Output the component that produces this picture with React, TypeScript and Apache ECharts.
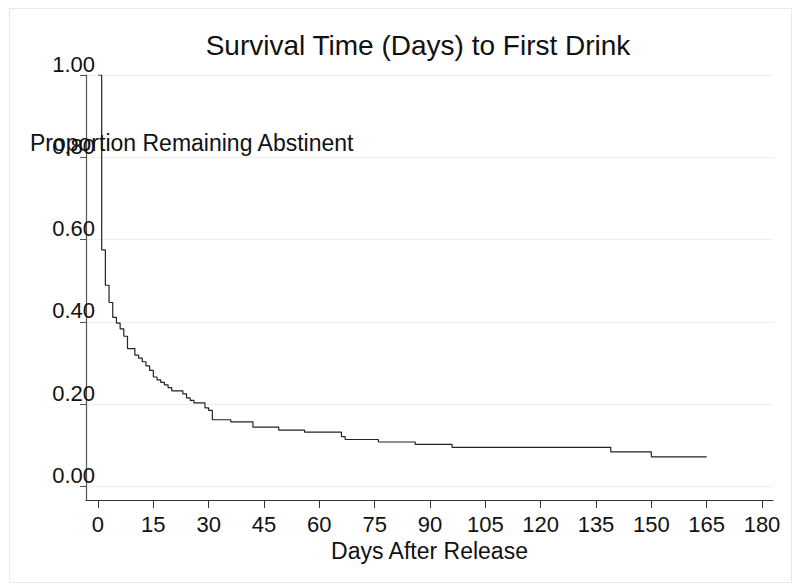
import React, { useEffect, useRef } from "react";
import * as echarts from "echarts";

const days = [0, 1, 2, 3, 4, 5, 6, 7, 8, 10, 11, 12, 13, 14, 15, 16, 17, 18, 19, 20, 23, 24, 25, 26, 29, 30, 31, 36, 42, 49, 56, 66, 67, 76, 86, 96, 139, 150, 165];
const survival = [1.0, 0.575, 0.489, 0.447, 0.411, 0.397, 0.383, 0.365, 0.335, 0.319, 0.312, 0.303, 0.293, 0.282, 0.266, 0.259, 0.253, 0.247, 0.24, 0.232, 0.225, 0.215, 0.209, 0.203, 0.191, 0.185, 0.162, 0.157, 0.144, 0.137, 0.132, 0.121, 0.114, 0.108, 0.102, 0.095, 0.084, 0.072, 0.072];
const xTicks = [0, 15, 30, 45, 60, 75, 90, 105, 120, 135, 150, 165, 180];
const yTicks = [0, 0.2, 0.4, 0.6, 0.8, 1.0];

const titleText = "Survival Time (Days) to First Drink";
const yTitle = "Proportion Remaining Abstinent";
const xTitle = "Days After Release";

const FONT = "'Liberation Sans', Arial, Helvetica, sans-serif";

export default function App() {
  const ref = useRef<HTMLDivElement>(null);
  useEffect(() => {
    if (!ref.current) return;
    const chart = echarts.init(ref.current, null, { renderer: "svg" });
    const data = days.map((d, i) => [d, survival[i]]);
    chart.setOption({
      animation: false,
      backgroundColor: "#ffffff",
      textStyle: { fontFamily: FONT },
      title: {
        text: titleText,
        left: 413,
        top: 26,
        textAlign: "center",
        textStyle: { fontFamily: FONT, fontSize: 28, fontWeight: "normal", color: "#111" },
      },
      grid: { left: 86, right: 27, top: 75, bottom: 86, containLabel: false },
      xAxis: {
        type: "value",
        min: -3.25,
        max: 182.98,
        name: xTitle,
        nameLocation: "middle",
        nameGap: 36,
        nameTextStyle: { fontFamily: FONT, fontSize: 23, color: "#111" },
        axisLine: { show: true, onZero: false, lineStyle: { color: "#333", width: 1.2 } },
        axisTick: { show: true, length: 8, customValues: xTicks, lineStyle: { color: "#333" } },
        axisLabel: {
          customValues: xTicks,
          margin: 13,
          fontSize: 22,
          fontFamily: FONT,
          color: "#111",
        },
        splitLine: { show: false },
      },
      yAxis: {
        type: "value",
        min: -0.033,
        max: 1.0,
        axisLine: { show: true, onZero: false, lineStyle: { color: "#555", width: 1.2 } },
        axisTick: { show: true, length: 6, customValues: yTicks, lineStyle: { color: "#555" } },
        axisLabel: {
          customValues: yTicks,
          margin: -9,
          align: "right",
          verticalAlign: "bottom",
          lineHeight: 22,
          fontSize: 22,
          fontFamily: FONT,
          color: "#111",
          formatter: (v: number) => v.toFixed(2),
        },
        splitLine: { show: true, lineStyle: { color: "#eaf0f0", width: 1 } },
      },
      graphic: [
        {
          type: "rect",
          shape: { x: 9.5, y: 8.5, width: 782, height: 574 },
          style: { fill: "none", stroke: "#e4e9e9", lineWidth: 1 },
          silent: true,
        },
        {
          type: "text",
          x: 30,
          y: 143,
          style: {
            text: yTitle,
            fontFamily: FONT,
            fontSize: 23,
            fill: "#111",
            textAlign: "left",
            textVerticalAlign: "middle",
          },
          z: 10,
        },
      ],
      series: [
        {
          type: "line",
          step: "end",
          data,
          symbol: "none",
          lineStyle: { color: "#222", width: 1.2 },
        },
      ],
    });
    return () => chart.dispose();
  }, []);
  return (
    <div
      ref={ref}
      style={{ position: "absolute", left: 0, top: 0, width: 800, height: 586 }}
    />
  );
}
